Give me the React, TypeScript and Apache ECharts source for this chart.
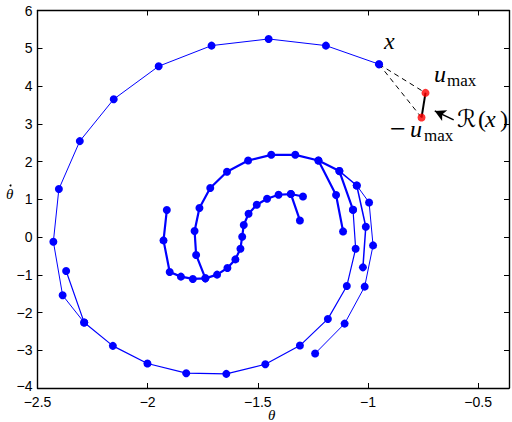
import React, { useEffect, useRef } from "react";
import * as echarts from "echarts";

// theta (x) / theta-dot (y) trajectories
const innerCurve = [[-1.913,0.714],[-1.928,-0.09],[-1.90,-0.926],[-1.849,-1.05],[-1.795,-1.111],[-1.738,-1.095],[-1.685,-0.997],[-1.638,-0.82],[-1.602,-0.593],[-1.579,-0.31],[-1.571,0.008],[-1.564,0.317],[-1.542,0.616],[-1.505,0.854],[-1.458,1.013],[-1.406,1.119],[-1.35,1.138],[-1.295,1.074]];
const innerBranch = [[-1.35,1.138],[-1.309,0.439]];
const middleSpiral = [[-1.738,-1.095],[-1.78,-0.476],[-1.787,0.158],[-1.765,0.767],[-1.716,1.296],[-1.64,1.728],[-1.544,2.026],[-1.439,2.177],[-1.33,2.177],[-1.225,2.026],[-1.145,1.111],[-1.113,0.148]];
const rightA = [[-1.225,2.026],[-1.13,1.746],[-1.068,0.722]];
const rightA2 = [[-1.068,0.722],[-1.056,-0.31],[-1.096,-1.296],[-1.182,-2.17],[-1.309,-2.876],[-1.466,-3.37],[-1.643,-3.625],[-1.825,-3.608],[-2.001,-3.352],[-2.158,-2.884],[-2.288,-2.267],[-2.37,-0.9]];
const rightB = [[-1.13,1.746],[-1.051,1.365],[-1.01,0.272],[-1.023,-0.804]];
const rightC = [[-1.051,1.365],[-0.995,0.915],[-0.977,-0.222],[-1.015,-1.315],[-1.106,-2.294],[-1.24,-3.087]];
const outerSpiral = [[-2.288,-2.267],[-2.386,-1.545],[-2.428,-0.124],[-2.403,1.27],[-2.308,2.54],[-2.154,3.651],[-1.95,4.524],[-1.71,5.07],[-1.451,5.246],[-1.191,5.07],[-0.95,4.577]];

const stateX = [-0.95, 4.577];
const uMaxPt = [-0.739, 3.817];
const uMinPt = [-0.757, 3.164];
const arrowTail = [-0.611, 3.103];
const arrowTip = [-0.697, 3.341];

const xTicks = [-2.5, -2, -1.5, -1, -0.5];
const yTicks = [-4, -3, -2, -1, 0, 1, 2, 3, 4, 5, 6];

const BLUE = "#0000ff";

const fmt = (v: number) => String(v).replace("-", "\u2212");

function blueLine(data: number[][], width: number) {
  return {
    type: "line",
    data,
    symbol: "circle",
    symbolSize: 8,
    showSymbol: true,
    itemStyle: { color: BLUE },
    lineStyle: { color: BLUE, width },
    silent: true,
    z: 3,
  };
}

export default function App() {
  const ref = useRef<HTMLDivElement>(null);
  useEffect(() => {
    if (!ref.current) return;
    const chart = echarts.init(ref.current, null, { renderer: "svg" });
    const axisCommon = {
      type: "value",
      axisLine: { show: true, onZero: false, lineStyle: { color: "#000", width: 1.4 } },
      axisTick: { show: true, inside: true, length: 5, lineStyle: { color: "#000", width: 1 } },
      splitLine: { show: false },
    };
    const labelStyle = {
      color: "#000",
      fontSize: 14,
      fontFamily: "Liberation Sans, Arial, sans-serif",
    };
    const xLabel = (v: number) => (xTicks.some((t) => Math.abs(t - v) < 1e-6) ? fmt(v) : "");
    const yLabel = (v: number) => {
      if (!yTicks.some((t) => Math.abs(t - v) < 1e-6)) return "";
      return v === yTicks[0] ? `{lo|${fmt(v)}}` : fmt(v);
    };
    const serif = '"Liberation Serif", "DejaVu Serif", serif';
    const txt = (text: string, x: number, baseline: number, size: number, italic: boolean, family = serif) => ({
      type: "text",
      x,
      y: baseline - 0.3375 * size,
      silent: true,
      style: {
        text,
        font: `${italic ? "italic " : ""}${size}px ${family}`,
        fill: "#000",
        align: "left",
        verticalAlign: "middle",
      },
    });
    chart.setOption({
      animation: false,
      backgroundColor: "#fff",
      grid: { left: 37.5, right: 1.5, top: 10.5, bottom: 34, containLabel: false },
      xAxis: [
        { ...axisCommon, position: "bottom", min: -2.5, max: -0.36, interval: 0.5,
          axisLabel: { ...labelStyle, margin: 7, formatter: xLabel } },
        { ...axisCommon, position: "top", min: -2.5, max: -0.36, interval: 0.5,
          axisLabel: { show: false } },
      ],
      yAxis: [
        { ...axisCommon, position: "left", min: -4, max: 6, interval: 1,
          axisLabel: {
            ...labelStyle, margin: 5, formatter: yLabel,
            rich: { lo: { ...labelStyle, padding: [0, 0, 5, 0] } },
          } },
        { ...axisCommon, position: "right", min: -4, max: 6, interval: 1,
          axisLabel: { show: false } },
      ],
      series: [
        blueLine(outerSpiral, 1),
        blueLine(rightA2, 1.2),
        blueLine(rightC, 1),
        blueLine(rightB, 1.5),
        blueLine(rightA, 2.2),
        blueLine(middleSpiral, 2.2),
        blueLine(innerBranch, 2.2),
        blueLine(innerCurve, 2.2),
        {
          type: "line", data: [stateX, uMaxPt], showSymbol: false, symbol: "none",
          lineStyle: { color: "#000", width: 1, type: [5, 4] }, z: 2, silent: true,
        },
        {
          type: "line", data: [stateX, uMinPt], showSymbol: false, symbol: "none",
          lineStyle: { color: "#000", width: 1, type: [5, 4] }, z: 2, silent: true,
        },
        {
          type: "line", data: [uMaxPt, uMinPt], showSymbol: false, symbol: "none",
          lineStyle: { color: "#000", width: 2 }, z: 4, silent: true,
          markLine: {
            silent: true,
            symbol: ["none", "arrow"],
            symbolSize: [9, 11],
            label: { show: false },
            lineStyle: { color: "#000", width: 1.5, type: "solid" },
            data: [[{ coord: arrowTail }, { coord: arrowTip }]],
          },
        },
        {
          type: "scatter", data: [uMaxPt, uMinPt], symbol: "circle", symbolSize: 8,
          itemStyle: { color: "#ff0000" }, z: 5, silent: true,
        },
        {
          type: "scatter", data: [stateX], symbol: "circle", symbolSize: 8,
          itemStyle: { color: BLUE }, z: 5, silent: true,
        },
      ],
      graphic: [
        txt("x", 384, 49, 24, true),
        txt("u", 434, 82.5, 24, true),
        txt("max", 447, 86.5, 17, false),
        txt("\u2212", 390, 138, 28, false),
        txt("u", 410, 137, 24, true),
        txt("max", 424, 141.5, 17, false),
        txt("\u211B", 457, 127, 24, false, '"DejaVu Serif", "DejaVu Sans", serif'),
        txt("(", 478, 127, 24, false),
        txt("x", 485, 127, 24, true),
        txt(")", 500, 127, 24, false),
        txt("\u03B8", 6, 199, 15, true),
        { type: "circle", shape: { cx: 10.5, cy: 185.5, r: 1 }, style: { fill: "#000" }, silent: true },
        txt("\u03B8", 268, 420, 15, true),
      ],
    });
    return () => chart.dispose();
  }, []);
  return (
    <div
      ref={ref}
      style={{ position: "fixed", left: 0, top: 0, width: 512, height: 422, background: "#fff" }}
    />
  );
}
